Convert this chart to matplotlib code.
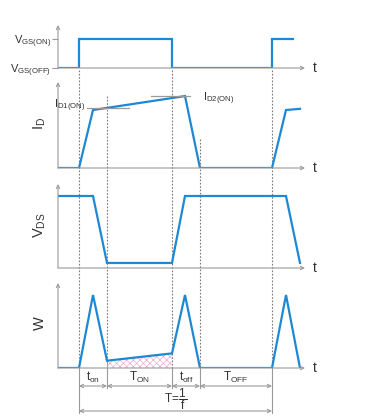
import matplotlib.pyplot as plt

plt.rcParams['font.family'] = ['Liberation Sans', 'DejaVu Sans']
plt.rcParams['mathtext.fontset'] = 'custom'
plt.rcParams['mathtext.rm'] = 'Liberation Sans'
plt.rcParams['mathtext.it'] = 'Liberation Sans'
plt.rcParams['mathtext.bf'] = 'Liberation Sans'
plt.rcParams['hatch.linewidth'] = 0.45

# switching waveforms (time in arbitrary units, t=0 at gate turn-on)
t_vgs = [-21, 0, 0, 93, 93, 193, 193, 214]
vgs = [0, 0, 1, 1, 0, 0, 1, 1]
t_id = [-21, 0, 14, 106, 121, 193, 207, 221]
i_d = [0, 0, 1.0, 1.24, 0, 0, 1.0, 1.02]
t_vds = [-21, 14, 28, 93, 106, 207, 221]
v_ds = [1, 1, 0.07, 0.07, 1, 1, 0.07]
t_w = [-21, 0, 14, 28, 93, 106, 121, 193, 207, 221]
w = [0, 0, 1, 0.1, 0.2, 1, 0, 0, 1, 0]

edges = [0, 28, 93, 121, 193]
interval_labels = [r'$\mathregular{t_{on}}$', r'$\mathregular{T_{ON}}$',
                   r'$\mathregular{t_{off}}$', r'$\mathregular{T_{OFF}}$']

BLUE = '#1e88d2'
GRAY = '#9a9a9a'
TXT = '#333333'
W_PX, H_PX = 369, 420
X0, X1 = 58, 305          # axis start / arrow end (pixels)
T0, T1 = -21, 226

fig = plt.figure(figsize=(W_PX / 100, H_PX / 100), dpi=100)

# overlay for guide lines and interval annotations (y in pixels)
ov = fig.add_axes([X0 / W_PX, 0, (X1 - X0) / W_PX, 1])
ov.set_xlim(T0, T1)
ov.set_ylim(H_PX, 0)
ov.axis('off')
ov.set_zorder(0)

def panel(base, top, ytop):
    ax = fig.add_axes([X0 / W_PX, 1 - base / H_PX, (X1 - X0) / W_PX, (base - top) / H_PX])
    ax.set_xlim(T0, T1)
    ax.set_ylim(0, ytop)
    ax.patch.set_visible(False)
    for s in ax.spines.values():
        s.set_visible(False)
    ax.set_xticks([])
    ax.set_yticks([])
    ax.annotate('', xy=(T1, 0), xytext=(T0, 0),
                arrowprops=dict(arrowstyle='->', color=GRAY, lw=0.8, shrinkA=0, shrinkB=0,
                                mutation_scale=6), annotation_clip=False)
    ax.annotate('', xy=(T0, ytop), xytext=(T0, 0),
                arrowprops=dict(arrowstyle='->', color=GRAY, lw=0.8, shrinkA=0, shrinkB=0,
                                mutation_scale=6), annotation_clip=False)
    ax.text(T1 + 8, 0, 't', fontsize=10, va='center', ha='left', color=TXT)
    ax.set_zorder(1)
    return ax

# VGS
ax1 = panel(68, 25, 43 / 29)
ax1.plot(t_vgs, vgs, color=BLUE, lw=1.6, solid_joinstyle='miter')
ax1.set_yticks([0, 1])
ax1.set_yticklabels([r'$\mathregular{V_{GS(OFF)}}$', r'$\mathregular{V_{GS(ON)}}$'],
                    fontsize=8, color=TXT)
ax1.tick_params(axis='y', length=4, width=0.8, color=GRAY, pad=1)

# ID
ax2 = panel(168, 82, 86 / 58)
ax2.plot(t_id, i_d, color=BLUE, lw=1.6, solid_joinstyle='miter')
ax2.plot([8, 50], [i_d[2] + 0.03, i_d[2] + 0.03], color=GRAY, lw=0.9)
ax2.plot([72, 111], [i_d[3], i_d[3]], color=GRAY, lw=0.9)
ax2.text(7, i_d[2] + 0.07, r'$\mathregular{I_{D1(ON)}}$', fontsize=8, ha='right', va='center',
         color=TXT)
ax2.text(124, i_d[3] - 0.04, r'$\mathregular{I_{D2(ON)}}$', fontsize=8, ha='left', va='center',
         color=TXT)

# VDS
ax3 = panel(268, 184, 84 / 72)
ax3.plot(t_vds, v_ds, color=BLUE, lw=1.6, solid_joinstyle='miter')

# W
ax4 = panel(368, 283, 85 / 73)
ax4.fill_between(t_w[3:5], 0, w[3:5], facecolor='none', edgecolor='#eaa6c8',
                 hatch='xxxxx', lw=0)
ax4.plot(t_w, w, color=BLUE, lw=1.6, solid_joinstyle='miter')

# y labels
for ylab, ypx in [(r'$\mathregular{I_D}$', 123), (r'$\mathregular{V_{DS}}$', 225), ('W', 323)]:
    fig.text(40 / W_PX, 1 - ypx / H_PX, ylab, rotation=90, fontsize=10.5, ha='center',
             va='center', color=TXT)

# dashed guides
dash_spans = [(70, 368), (96, 360), (70, 368), (139, 368), (70, 368)]
solid_ends = [413, 388, 388, 388, 413]
for x, (ya, yb), ye in zip(edges, dash_spans, solid_ends):
    ov.plot([x, x], [ya, yb], color='#7a7a7a', lw=0.8, ls=(0, (1.5, 1.5)))
    ov.plot([x, x], [yb, ye], color=GRAY, lw=0.8)

# interval arrows
for a, b, lab in zip(edges[:-1], edges[1:], interval_labels):
    ov.annotate('', xy=(b, 386), xytext=(a, 386),
                arrowprops=dict(arrowstyle='<->', color=GRAY, lw=0.8, shrinkA=0, shrinkB=0,
                                mutation_scale=6))
    ov.text((a + b) / 2, 377, lab, fontsize=8.5, ha='center', va='center', color=TXT)

ov.annotate('', xy=(edges[-1], 411), xytext=(edges[0], 411),
            arrowprops=dict(arrowstyle='<->', color=GRAY, lw=0.8, shrinkA=0, shrinkB=0,
                            mutation_scale=6))
ov.text((edges[0] + edges[-1]) / 2, 399, r'$\mathregular{T\!=\!\dfrac{1}{f}}$', fontsize=8.5,
        ha='center', va='center', color=TXT)

fig.savefig('out.png', dpi=100)
